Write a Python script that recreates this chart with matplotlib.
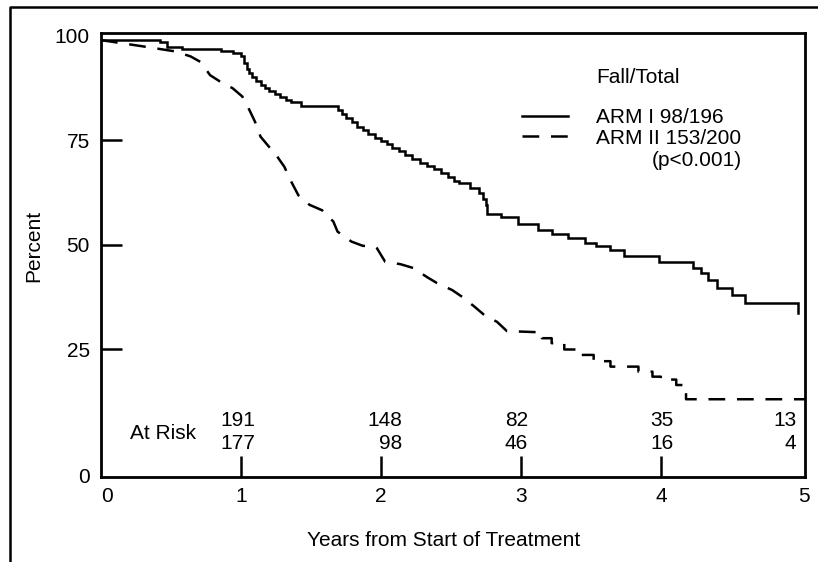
import matplotlib
matplotlib.use('Agg')
import matplotlib.pyplot as plt
from matplotlib.lines import Line2D

plt.rcParams['font.family'] = ['Liberation Sans', 'DejaVu Sans']
plt.rcParams['font.size'] = 15

# arm I (solid) - step curve
t1 = [0, 0.42, 0.47, 0.58, 0.86, 0.94, 1.00, 1.02, 1.04, 1.06, 1.08, 1.11, 1.14, 1.17,
      1.20, 1.24, 1.28, 1.32, 1.36, 1.43, 1.69, 1.72, 1.75, 1.79, 1.83, 1.87, 1.91, 1.96,
      2.00, 2.04, 2.08, 2.13, 2.17, 2.22, 2.28, 2.33, 2.38, 2.43, 2.48, 2.52, 2.56, 2.64,
      2.70, 2.73, 2.75, 2.76, 2.86, 2.98, 3.12, 3.22, 3.34, 3.46, 3.54, 3.64, 3.74, 3.99,
      4.23, 4.29, 4.34, 4.40, 4.51, 4.60, 4.98]
s1 = [98.9, 98.4, 97.3, 96.8, 96.3, 95.8, 95.0, 93.5, 92.0, 91.0, 90.0, 89.0, 88.2, 87.5,
      86.8, 86.0, 85.2, 84.6, 84.0, 83.2, 82.3, 81.2, 80.2, 79.2, 78.2, 77.3, 76.5, 75.5,
      74.8, 74.0, 73.2, 72.3, 71.4, 70.5, 69.6, 68.9, 68.0, 67.0, 66.1, 65.3, 64.7, 63.5,
      62.3, 61.0, 59.5, 57.3, 56.6, 54.9, 53.4, 52.5, 51.5, 50.3, 49.7, 48.7, 47.2, 45.9,
      44.3, 43.1, 41.5, 39.5, 37.9, 35.9, 33.6]

# arm II (dashed)
t2 = [0, 0.30, 0.53, 0.64, 0.71, 0.78, 0.85, 0.94, 1.01, 1.06, 1.10, 1.14, 1.19, 1.26,
      1.31, 1.36, 1.41, 1.49, 1.58, 1.66, 1.69, 1.79, 1.87, 1.96, 1.97, 2.03, 2.14, 2.23,
      2.33, 2.40, 2.51, 2.58, 2.67, 2.74, 2.83, 2.90, 3.15, 3.15, 3.22, 3.22, 3.31, 3.31,
      3.42, 3.42, 3.52, 3.52, 3.64, 3.64, 3.84, 3.84, 3.94, 3.94, 4.00, 4.00, 4.11, 4.11,
      4.16, 4.16, 4.18, 4.18, 5.03]
s2 = [98.9, 97.4, 96.2, 95.0, 93.7, 90.5, 89.0, 87.4, 85.4, 82.2, 79.4, 75.8, 73.8, 71.0,
      68.6, 65.0, 61.8, 59.5, 58.2, 55.5, 53.1, 50.7, 49.7, 49.5, 49.2, 45.9, 45.3, 44.4,
      42.2, 40.8, 39.1, 37.5, 35.1, 33.1, 31.5, 29.3, 29.0, 27.6, 27.6, 26.4, 26.4, 24.9,
      24.9, 23.6, 23.6, 22.1, 22.1, 20.8, 20.8, 19.6, 19.6, 18.4, 18.4, 17.7, 17.7, 16.4,
      16.4, 15.6, 15.6, 13.0, 13.0]

risk_years = [1, 2, 3, 4, 5]
risk_arm1 = [191, 148, 82, 35, 13]
risk_arm2 = [177, 98, 46, 16, 4]

labels = ['ARM I 98/196', 'ARM II 153/200']

lw = 1.8
fig = plt.figure(figsize=(8.18, 5.62), dpi=100)
ax = fig.add_axes([101/818, 1 - 477/562, 704/818, 444/562])

l1, = ax.step(t1, s1, where='post', color='black', lw=lw, solid_joinstyle='miter')
l2, = ax.plot(t2, s2, color='black', lw=lw, linestyle=(0, (6.7, 4.7)))

ax.set_xlim(0, 5.03)
ax.set_ylim(-5.6, 100.6)
for sp in ax.spines.values():
    sp.set_linewidth(2)

ax.set_xticks([0.04, 1, 2, 3, 4, 5.02])
ax.set_xticklabels(['0', '1', '2', '3', '4', '5'])
ax.set_yticks([-5.3, 25, 50, 75, 100])
ax.set_yticklabels(['0', '25', '50', '75', '100'])
ax.tick_params(direction='in', length=15, width=1.8, pad=8)
ax.tick_params(axis='x', pad=7)
for i in [0, -1]:
    ax.xaxis.get_major_ticks()[i].tick1line.set_visible(False)
    ax.yaxis.get_major_ticks()[i].tick1line.set_visible(False)

ax.set_xlabel('Years from Start of Treatment')
ax.xaxis.set_label_coords(0.4865, -0.122)
ax.set_ylabel('Percent')
ax.yaxis.set_label_coords(-0.082, 0.52)

# at risk table
right_shift = [0.10, 0.15, 0.05, 0.09, -0.03]
for x, a, b, dx in zip(risk_years, risk_arm1, risk_arm2, right_shift):
    ax.text(x + dx, 8.0, str(a), ha='right', va='center')
    ax.text(x + dx, 2.5, str(b), ha='right', va='center')
ax.text(0.21, 4.9, 'At Risk', ha='left', va='center')

# legend
ax.text(0.703, 0.90, 'Fall/Total', transform=ax.transAxes, ha='left', va='center')
ax.legend([l1, l2], labels, loc='upper left', bbox_to_anchor=(0.598, 0.83),
          frameon=False, handlelength=2.2, handletextpad=1.35, labelspacing=0.05,
          borderaxespad=0, borderpad=0)
ax.text(0.782, 0.712, '(p<0.001)', transform=ax.transAxes, ha='left', va='center')

# outer frame (cropped)
fx = 10/818
fy = 1 - 7/562
fig.add_artist(Line2D([fx, fx, 1.0], [0, fy, fy], transform=fig.transFigure,
                      color='black', lw=1.8))

fig.savefig('out.png', dpi=100)
